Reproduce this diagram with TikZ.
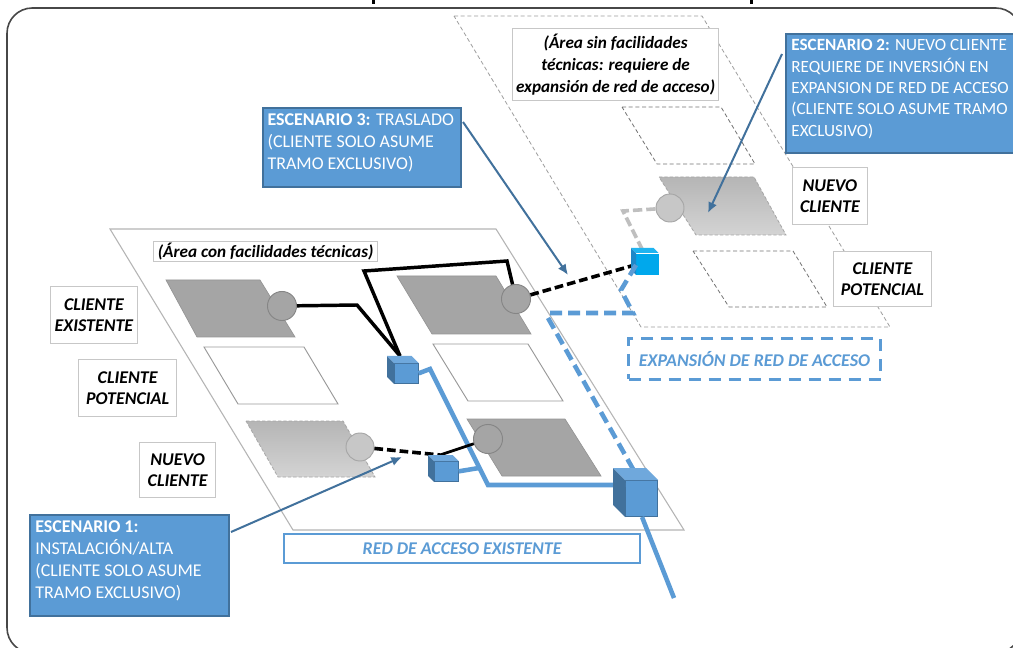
\documentclass[tikz,border=0pt]{standalone}
\usepackage{fontspec}
\setmainfont{Carlito}
\usetikzlibrary{arrows.meta}
\definecolor{cblue}{HTML}{5B9BD5}
\definecolor{cblued}{HTML}{41719C}
\definecolor{cbluet}{HTML}{6FA8DC}
\definecolor{cbright}{HTML}{00A8EC}
\definecolor{cbrightd}{HTML}{1E88C8}
\definecolor{cbrightt}{HTML}{1FB4F0}
\definecolor{cfill}{HTML}{A5A5A5}
\definecolor{cline}{HTML}{B4B4B4}
\newcommand{\cubeat}[8]{%
  \fill[#8] (#2,#3) -- ++(#4,#4) -- ++(0,#6) -- ++(-#4,-#4) -- cycle;
  \fill[#7] (#2,#3) -- ++(#5,0) -- ++(#4,#4) -- ++(-#5,0) -- cycle;
}
\tikzset{
  bluebox/.style={draw=cblued,line width=1.6pt,fill=cblue,text=white,inner sep=0pt,anchor=north west,font=\fontsize{13.45pt}{16.4pt}\selectfont},
  labelbox/.style={draw=black!22,line width=.9pt,fill=white,inner sep=0pt,align=center,anchor=north west,font=\fontsize{13.45pt}{16.4pt}\selectfont\bfseries\itshape},
  labelboxs/.style={labelbox,font=\fontsize{12.9pt}{16.4pt}\selectfont\bfseries\itshape},
  plot/.style={fill=cfill,draw=black!42,line width=.5pt},
  empty/.style={fill=white,draw=black!40,line width=.7pt},
  emptyd/.style={fill=none,draw=black!55,line width=.6pt,dash pattern=on 3pt off 2pt},
  newplot/.style={top color=black!29,bottom color=black!17,draw=black!35,line width=.6pt,dash pattern=on 2.5pt off 1.5pt},
  circA/.style={circle,draw=black!48,fill=cfill,line width=.7pt,minimum size=21.8pt,inner sep=0pt},
  circB/.style={circle,draw=black!35,fill=black!22,line width=.7pt,minimum size=21pt,inner sep=0pt},
  blk/.style={draw=black,line width=2.6pt,line join=miter},
  blkt/.style={draw=black,line width=2.1pt,line join=miter},
  blkd/.style={draw=black,line width=2.7pt,dash pattern=on 6.5pt off 3pt},
  net/.style={draw=cblue,line width=3.4pt},
  netd/.style={draw=cblue,line width=3.4pt,dash pattern=on 9pt off 4.5pt},
  callout/.style={draw=cblued,line width=1.5pt,-{Latex[length=8pt,width=7pt]}},
  cubefront/.style={inner sep=0pt,outer sep=0pt,anchor=north west},
}
\begin{document}
\begin{tikzpicture}[x=.75pt,y=-.75pt]
\clip (0,0) rectangle (1013,648);
\fill[white] (0,0) rectangle (1013,648);
% title remnants
\fill[black] (372,0) rectangle (375,4);
\fill[black] (750,0) rectangle (753,4);
% outer frame
\draw[draw=black!72,line width=1.2pt,rounded corners=19pt] (7,8) rectangle (1021,653);
% areas
\draw[draw=cline,line width=.8pt] (110,229) -- (496,229) -- (684,530) -- (293,530) -- cycle;
\draw[draw=black!38,line width=.6pt,dash pattern=on 3pt off 2pt] (454,16) -- (702,16) -- (890,327) -- (641,327) -- cycle;
% plots, lower left area
\draw[plot] (166,280) -- (260,280) -- (295,337) -- (197,337) -- cycle;
\draw[empty] (204,347) -- (304,347) -- (338,404) -- (238,404) -- cycle;
\path[newplot] (246,421) -- (343,421) -- (375,477) -- (278,477) -- cycle;
\draw[plot] (397,276) -- (496,276) -- (531,334) -- (432,334) -- cycle;
\draw[empty] (433,344) -- (528,344) -- (563,401) -- (468,401) -- cycle;
\draw[plot] (467,419) -- (565,419) -- (601,476) -- (502,476) -- cycle;
% plots, upper right area
\draw[emptyd] (622,107) -- (721,107) -- (755,164) -- (657,164) -- cycle;
\path[newplot] (659,177) -- (754,177) -- (786,235) -- (696,235) -- cycle;
\draw[emptyd] (693,251) -- (793,251) -- (827,307) -- (729,307) -- cycle;
% waypoints
\coordinate (wa) at (357,305);
\coordinate (wb) at (364,271);
\coordinate (wc) at (507,261);
\coordinate (wd) at (440,455);
\coordinate (captopA) at (400,356);
\coordinate (wnet1) at (430,369);
\coordinate (wnet2) at (488,485);
\coordinate (wnet3) at (479,468);
\coordinate (wnet4) at (674,598);
\coordinate (wg) at (623,211);
\coordinate (cgtop) at (642,249);
\coordinate (we) at (621,290);
\coordinate (wf) at (633,313);
\coordinate (wh) at (546,313);
\coordinate (wi) at (548,318);
\coordinate (captopB) at (633,469);
\coordinate (bottomB) at (642,517);
% circles
\node[circA] (c1) at (282,306) {};
\node[circA] (c2) at (516,299) {};
\node[circA] (c3) at (488,439) {};
\node[circB] (c4) at (360,447) {};
\node[circB] (c5) at (670,208) {};
% cube front faces
\node[cubefront,fill=cblue,draw=cblued,line width=.6pt,minimum width=24pt,minimum height=27.5pt] (cbig) at (625,480) {};
\node[cubefront,fill=cblue,draw=cblued,line width=.6pt,minimum width=18.5pt,minimum height=15.5pt] (cA) at (394,363) {};
\node[cubefront,fill=cblue,draw=cblued,line width=.6pt,minimum width=18.5pt,minimum height=15.5pt] (cC) at (434,461) {};
\node[cubefront,fill=cbright,minimum width=17pt,minimum height=16pt] (cB) at (636,254) {};
% network lines
\draw[net] (wnet4) -- (bottomB);
\draw[net] (cA.east) -- (wnet1) -- (wnet2) -- (cbig.west |- wnet2);
\draw[net] (cC.east) -- (wnet3);
\draw[netd] (wi) -- (captopB);
% black lines
\draw[blk] (c1) -- (wa) -- (captopA);
\draw[blk] (captopA) -- (wb) -- (wc) -- (c2);
\draw[blkd] (c2) -- (cB.west);
\draw[blkd] (c4) -- (wd);
\draw[blkt] (wd) -- (c3);
% light gray expansion drop
\draw[draw=black!25,line width=2.7pt,dash pattern=on 7pt off 3pt] (c5) -- (wg) -- (cgtop);
% cube sides and tops
\cubeat{cbig}{613}{468}{12}{33}{37}{cbluet}{cblued}
\cubeat{cA}{387}{356}{7}{24.5}{21}{cbluet}{cblued}
\cubeat{cC}{428}{455}{6}{24.5}{21}{cbluet}{cblued}
\cubeat{cB}{631}{248}{5}{22.5}{22}{cbrightt}{cbrightd}
\draw[netd] (cB.west |- 0,265) -- (we) -- (wf) -- (wh);
% label boxes
\node[labelboxs,minimum width=168pt,minimum height=15pt] (larea1) at (153,241) {(Área con facilidades técnicas)};
\node[labelbox,minimum width=65pt,minimum height=42.8pt] (l1) at (50,286) {CLIENTE\\EXISTENTE};
\node[labelbox,minimum width=73.5pt,minimum height=42.8pt] (l2) at (78,359) {CLIENTE\\POTENCIAL};
\node[labelbox,minimum width=57pt,minimum height=41.3pt] (l3) at (139,442) {NUEVO\\CLIENTE};
\node[labelboxs,minimum width=154.5pt,minimum height=54pt] (larea2) at (512,28) {(Área sin facilidades\\técnicas: requiere de\\expansión de red de acceso)};
\node[labelbox,minimum width=56pt,minimum height=42.8pt] (l4) at (792,167) {NUEVO\\CLIENTE};
\node[labelbox,minimum width=74pt,minimum height=41.3pt] (l5) at (832.5,251) {CLIENTE\\POTENCIAL};
\node[labelbox,draw=cblue,line width=1.7pt,text=cblue,minimum width=267pt,minimum height=21.5pt] (lred) at (283,533) {RED DE ACCESO EXISTENTE};
\node[labelbox,draw=cblue,line width=2.3pt,dash pattern=on 9pt off 6pt,text=cblue,minimum width=189pt,minimum height=30.5pt] (lexp) at (627,337) {EXPANSIÓN DE RED DE ACCESO};
% scenario boxes
\node[bluebox] (e1) at (29,514) {\parbox[c][75.7pt][t]{149pt}{\leftskip=4pt\rule{0pt}{13pt}\textbf{ESCENARIO 1:}\\INSTALACIÓN/ALTA\\(CLIENTE SOLO ASUME\\TRAMO EXCLUSIVO)}};
\node[bluebox] (e3) at (262,107) {\parbox[c][59.2pt][t]{148.5pt}{\leftskip=3.4pt\rule{0pt}{13pt}\textbf{ESCENARIO 3:} TRASLADO\\(CLIENTE SOLO ASUME\\TRAMO EXCLUSIVO)}};
\node[bluebox,font=\fontsize{12.85pt}{16pt}\selectfont] (e2) at (785,33) {\parbox[c][89.2pt][t]{190pt}{\leftskip=4pt\rule{0pt}{12.5pt}\textbf{ESCENARIO 2:} NUEVO CLIENTE\\REQUIERE DE INVERSIÓN EN\\EXPANSION DE RED DE ACCESO\\(CLIENTE SOLO ASUME TRAMO\\EXCLUSIVO)}};
% callout arrows
\coordinate (t1) at (402,457);
\coordinate (t2) at (708,213);
\coordinate (t3) at (568,275);
\coordinate (s1) at (231,532);
\coordinate (s2) at (782,54);
\coordinate (s3) at (463,122);
\draw[callout] (s1) -- (t1);
\draw[callout] (s2) -- (t2);
\draw[callout] (s3) -- (t3);
\end{tikzpicture}
\end{document}
